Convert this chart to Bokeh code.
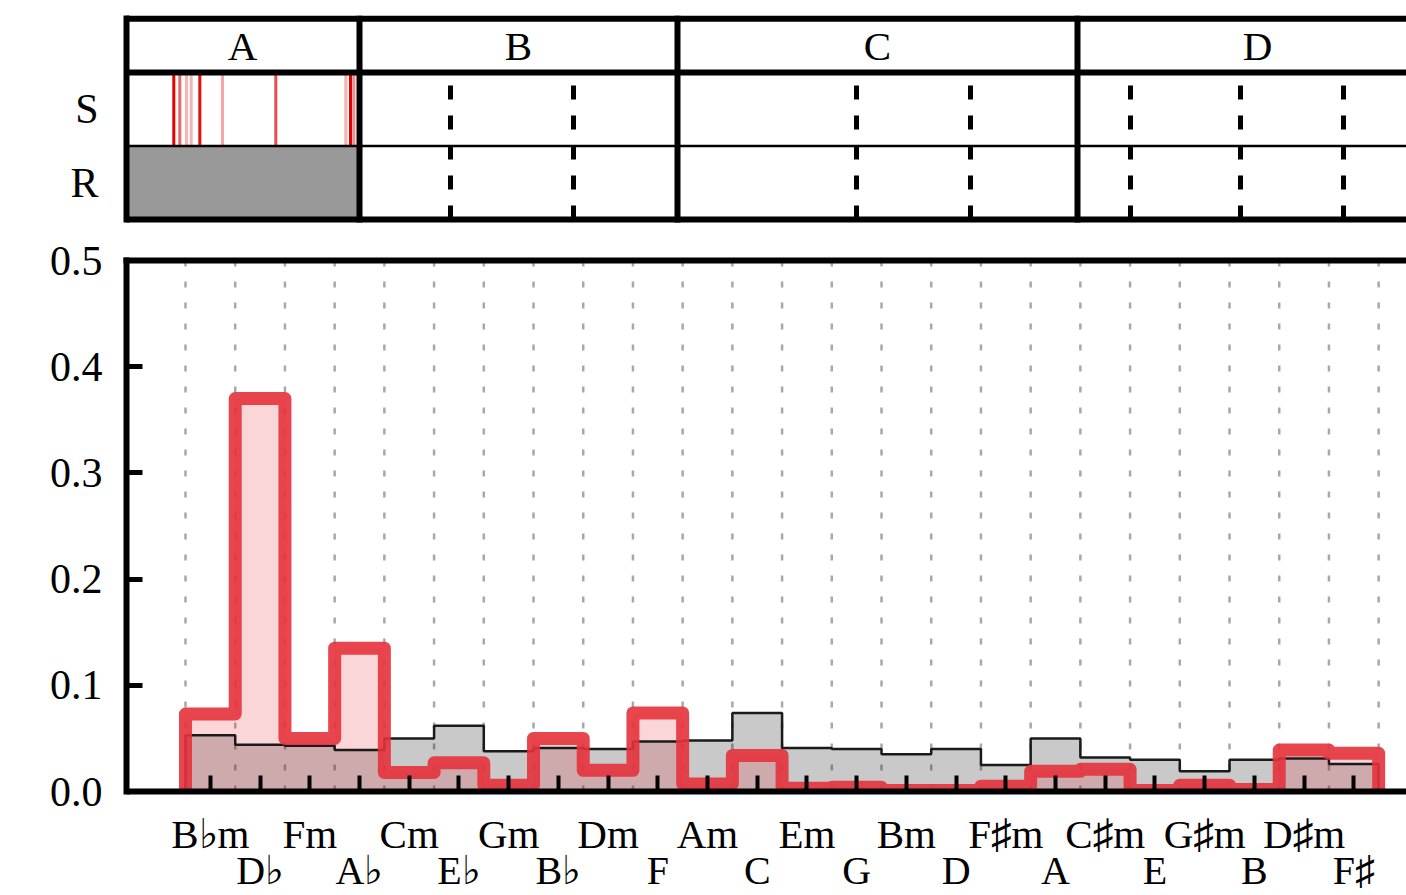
from bokeh.plotting import figure
from bokeh.models import Range1d, FixedTicker, LinearAxis, NumeralTickFormatter, BoxAnnotation
from bokeh.layouts import column
from bokeh.embed import file_html
from bokeh.resources import INLINE
from bokeh.core.properties import value

# ---------------- data ----------------
chords = ["B♭m", "D♭", "Fm", "A♭", "Cm", "E♭", "Gm", "B♭", "Dm", "F", "Am", "C",
          "Em", "G", "Bm", "D", "F♯m", "A", "C♯m", "E", "G♯m", "B", "D♯m", "F♯"]
ref_dist = [0.053, 0.044, 0.043, 0.039, 0.050, 0.062, 0.038, 0.041, 0.040, 0.047, 0.048, 0.074,
            0.041, 0.040, 0.035, 0.040, 0.025, 0.050, 0.032, 0.030, 0.019, 0.030, 0.031, 0.026]
est_dist = [0.073, 0.370, 0.050, 0.135, 0.018, 0.027, 0.006, 0.050, 0.020, 0.074, 0.007, 0.034,
            0.003, 0.004, 0.001, 0.001, 0.005, 0.019, 0.021, 0.001, 0.006, 0.002, 0.039, 0.036]
y_ticks = [0.0, 0.1, 0.2, 0.3, 0.4, 0.5]

sections = ["A", "B", "C", "D"]
section_bounds = [0.0, 23.4, 55.2, 95.2, 131.2]
beat_times = [32.5, 44.8, 73.1, 84.5, 100.5, 111.5, 121.8]
event_times = [4.83, 5.43, 6.1, 6.57, 7.43, 9.7, 15.03, 22.03, 22.5, 22.83]
event_weights = [1.0, 0.6, 0.3, 0.3, 0.95, 0.35, 0.7, 0.3, 1.0, 0.45]
row_names = ["R", "S"]

FONT = "Liberation Serif"
RED = "#e6323c"

# ---------------- top panel ----------------
header_top = 2.73
top = figure(width=1406, height=230, x_range=Range1d(0.1, 128.1), y_range=Range1d(-0.122, 2.843),
             output_backend="svg", toolbar_location=None, x_axis_location=None,
             min_border_left=126, min_border_right=0, min_border_top=10, min_border_bottom=2)
top.outline_line_color = None
top.grid.visible = False

ya = top.yaxis[0]
ya.ticker = FixedTicker(ticks=[0.5, 1.5])
ya.major_label_overrides = {0.5: row_names[0], 1.5: row_names[1]}
ya.bounds = (0, header_top)
ya.axis_line_color = "black"
ya.axis_line_width = 6
ya.axis_line_cap = "square"
ya.major_tick_line_color = None
ya.minor_tick_line_color = None
ya.major_label_text_font = FONT
ya.major_label_text_font_size = "42px"
ya.major_label_text_color = "black"
ya.major_label_standoff = 22

# reference-availability block (R row, section A)
top.quad(left=[section_bounds[0]], right=[section_bounds[1]], bottom=[0], top=[1],
         fill_color="#999999", line_color=None)
# S-row events in section A
top.segment(x0=event_times, x1=event_times, y0=[1] * len(event_times), y1=[2] * len(event_times),
            line_color="#e60000", line_alpha=event_weights, line_width=3)
# beat lines in B, C, D
top.segment(x0=beat_times, x1=beat_times, y0=[0] * len(beat_times), y1=[2] * len(beat_times),
            line_color="black", line_width=5, line_dash="14 16")
# borders
top.segment(x0=[0, 0, 0], x1=[section_bounds[-1]] * 3, y0=[0, 2, header_top], y1=[0, 2, header_top],
            line_color="black", line_width=6, line_cap="square")
top.segment(x0=[0], x1=[section_bounds[-1]], y0=[1], y1=[1], line_color="black", line_width=2.5)
top.segment(x0=section_bounds[1:-1], x1=section_bounds[1:-1], y0=[0] * 3, y1=[header_top] * 3,
            line_color="black", line_width=6, line_cap="square")
mids = [(section_bounds[i] + section_bounds[i + 1]) / 2 for i in range(len(sections))]
top.text(x=mids, y=[(2 + header_top) / 2] * len(mids), text=sections,
         text_font=value(FONT), text_font_size="41px", text_align="center",
         text_baseline="middle", text_color="black")

# ---------------- histogram panel ----------------
y_max = y_ticks[-1]
p = figure(width=1406, height=665, x_range=Range1d(-1.187, 24.56), y_range=Range1d(-0.0979, y_max),
           output_backend="svg", toolbar_location=None,
           min_border_left=126, min_border_right=0, min_border_top=30, min_border_bottom=0)
p.outline_line_color = None
p.grid.visible = False
n = len(chords)
edges = list(range(n + 1))
centers = [i + 0.5 for i in range(n)]

# vertical dotted bin-edge guides (from 0 up to the top of the scale)
p.segment(x0=edges, x1=edges, y0=[0] * len(edges), y1=[y_max] * len(edges),
          line_color="#a8a8a8", line_width=2.5, line_dash="6 15")


def stair(vals):
    xs, ys = [0.0], [0.0]
    for i, v in enumerate(vals):
        xs += [i, i + 1]
        ys += [v, v]
    xs.append(len(vals))
    ys.append(0.0)
    return xs, ys


gx, gy = stair(ref_dist)
rx, ry = stair(est_dist)
p.patch(gx, gy, fill_color="black", fill_alpha=0.21, line_color=None)
p.patch(rx, ry, fill_color=RED, fill_alpha=0.2, line_color=None)
p.line(gx, gy, line_color="#1a1a1a", line_width=2.5)
p.line(rx, ry, line_color=RED, line_width=13, line_alpha=0.9, line_join="round")
# hide anything drawn below the zero baseline (label area)
p.add_layout(BoxAnnotation(top=0, fill_color="white", fill_alpha=1.0, line_color=None, level="glyph"))

yax = p.yaxis[0]
yax.ticker = FixedTicker(ticks=y_ticks)
yax.formatter = NumeralTickFormatter(format="0.0")
yax.bounds = (0, y_max)
yax.major_tick_in = 16
yax.major_tick_out = 0
yax.major_tick_line_width = 5
yax.major_tick_line_color = "black"
yax.minor_tick_line_color = None
yax.axis_line_width = 6
yax.axis_line_color = "black"
yax.axis_line_cap = "square"
yax.major_label_text_font = FONT
yax.major_label_text_font_size = "42px"
yax.major_label_text_color = "black"
yax.major_label_standoff = 24

xax = p.xaxis[0]
xax.fixed_location = 0
xax.ticker = FixedTicker(ticks=centers)
xax.major_label_overrides = {c: (chords[i] if i % 2 == 0 else "") for i, c in enumerate(centers)}
xax.major_tick_in = 16
xax.major_tick_out = 0
xax.major_tick_line_width = 4
xax.major_tick_line_color = "black"
xax.minor_tick_line_color = None
xax.axis_line_width = 6
xax.axis_line_color = "black"
xax.major_label_text_font = FONT
xax.major_label_text_font_size = "41px"
xax.major_label_text_color = "black"
xax.major_label_standoff = 19

odd_centers = [c for i, c in enumerate(centers) if i % 2 == 1]
ax2 = LinearAxis(ticker=FixedTicker(ticks=odd_centers), fixed_location=0,
                 major_label_overrides={c: chords[i] for i, c in enumerate(centers) if i % 2 == 1},
                 axis_line_color=None, major_tick_line_color=None, minor_tick_line_color=None,
                 major_label_text_font=FONT, major_label_text_font_size="40px",
                 major_label_text_color="black", major_label_standoff=50)
p.add_layout(ax2, "below")

topax = LinearAxis(ticker=FixedTicker(ticks=[]), axis_line_width=6, axis_line_color="black",
                   axis_line_cap="square", major_tick_line_color=None, minor_tick_line_color=None,
                   major_label_text_font_size="0px")
p.add_layout(topax, "above")

layout = column(top, p)
open("out.html", "w").write(file_html(layout, INLINE))
